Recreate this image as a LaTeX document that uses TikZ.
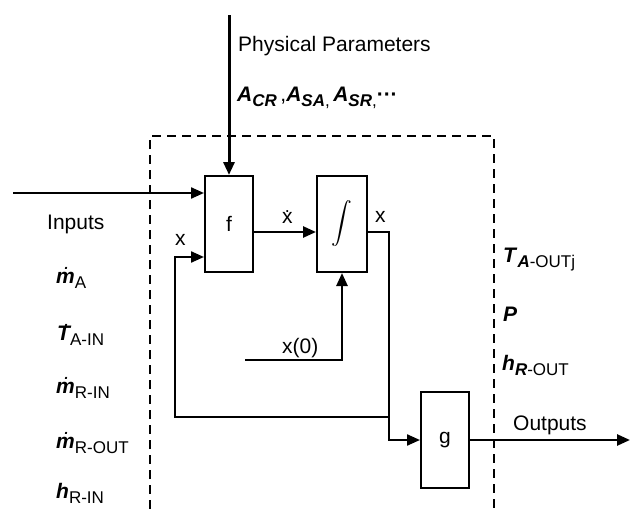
\documentclass[tikz,border=0pt]{standalone}
\usepackage{exscale}
\usepackage{fontspec}
\setmainfont{Liberation Sans}
\usetikzlibrary{arrows.meta}
\newcommand\vb[1]{\textbf{\textit{#1}}}
\newcommand\sbs[1]{\raisebox{-5pt}{\fontsize{17}{19}\selectfont #1}}
\newcommand\dtop[2][2pt]{\ooalign{#2\cr\hfil\hspace{#1}\raisebox{0.62em}{\fontsize{14}{14}\selectfont .}\hfil\cr}}
\newcommand\dtreg[1]{\ooalign{#1\cr\hfil\raisebox{0.52em}{\fontsize{18}{18}\selectfont .}\hfil\cr}}
\begin{document}
\begin{tikzpicture}[x=1pt,y=-1pt,
  blk/.style={draw, line width=2pt, minimum width=48pt, minimum height=96pt, inner sep=0pt, font=\fontsize{21}{25}\selectfont},
  conn/.style={line width=2.6pt, line join=miter, -{Triangle[length=13pt,width=11pt]}},
  lbl/.style={font=\fontsize{21}{25}\selectfont, inner sep=0pt, anchor=base west},
  bnd/.style={line width=2.5pt, dash pattern=on 9pt off 6pt}]
\useasboundingbox (0,0) rectangle (630,509);
% dashed boundary
\coordinate (bl0) at (150,509);
\coordinate (bl1) at (150,136);
\coordinate (br1) at (494,136);
\coordinate (br0) at (494,509);
\draw[bnd] (bl0) -- (bl1) -- (br1) -- (br0);
% blocks
\node[blk] (f) at (229,224) {f};
\node[blk, minimum width=50pt] (int) at (342,224) {\fontsize{22}{26}\selectfont$\displaystyle\int$};
\node[blk] (g) at (445,440) {g};
% connectors
\coordinate (pp) at (229,15);
\draw[conn, line width=3pt] (pp) -- (f.north);
\coordinate (in0) at (13,193);
\draw[conn, line width=2.2pt] (in0) -- (in0 -| f.west);
\draw[conn] ([yshift=-8pt]f.east) -- ([yshift=-8pt]int.west);
\coordinate (bj) at (389,417);
\coordinate (bl) at (175,417);
\draw[conn, line width=2.2pt] ([yshift=-8pt]int.east) -| (bj) -- (bl) |- ([yshift=-33pt]f.west);
\draw[conn, line width=2.2pt] (bj) |- (g.west);
\coordinate (x0) at (245,360);
\draw[conn] (x0) -| (int.south);
\coordinate (out) at (630,440);
\draw[conn] (g.east) -- (out);
% labels
\node[lbl] (pplbl) at (238,51) {Physical Parameters};
\node[lbl] (params) at (237,101) {\vb{A}\sbs{\vb{CR}}\,,\vb{A}\sbs{\vb{SA},}\,\vb{A}\sbs{\vb{SR},}\textbf{···}};
\node[lbl] (inputs) at (47,229) {Inputs};
\node[lbl] (mA) at (56,283) {\vb{\dtop{m}}\sbs{A}};
\node[lbl] (TA) at (57,340) {\vb{\dtop[6pt]{T}}\sbs{A-IN}};
\node[lbl] (mRi) at (56,393) {\vb{\dtop{m}}\sbs{R-IN}};
\node[lbl] (mRo) at (56,448) {\vb{\dtop{m}}\sbs{R-OUT}};
\node[lbl] (hRi) at (56,498) {\vb{h}\sbs{R-IN}};
\node[lbl] (Tout) at (503,262) {\vb{T}\sbs{\vb{A}-OUTj}};
\node[lbl] (P) at (503,321) {\vb{P}};
\node[lbl] (hout) at (502,370) {\vb{h}\sbs{\vb{R}-OUT}};
\node[lbl] (outs) at (513,430) {Outputs};
\node[lbl] (xd) at (282,223) {\dtreg{x}};
\node[lbl] (xr) at (375,222) {x};
\node[lbl] (xl) at (175,245) {x};
\node[lbl] (x0l) at (282,353) {x(0)};
\end{tikzpicture}
\end{document}
